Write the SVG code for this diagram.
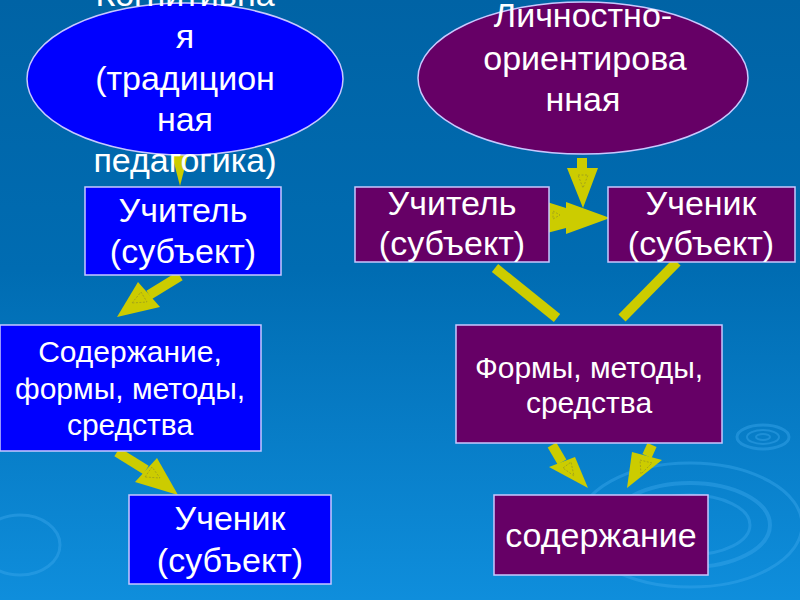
<svg xmlns="http://www.w3.org/2000/svg" width="800" height="600" viewBox="0 0 800 600">
<defs>
<linearGradient id="bg" x1="0" y1="0" x2="0" y2="1">
<stop offset="0" stop-color="#0063A5"/>
<stop offset="0.45" stop-color="#006CB2"/>
<stop offset="1" stop-color="#0F8EDC"/>
</linearGradient>
<style>
.t{font-family:"Liberation Sans",Arial,sans-serif;fill:#FFFFFF;text-anchor:middle}
.big{font-size:34px}
.mid{font-size:30px}
.blue{fill:#0000FF;stroke:#C8C8FF;stroke-width:1.5}
.purp{fill:#660066;stroke:#C8C8FF;stroke-width:1.5}
.shaft{stroke:#CCCC00;stroke-width:10;fill:none}
.head{fill:#CCCC00}
.inner{fill:none;stroke:#9A9A20;stroke-width:0.8;stroke-dasharray:2 1.5}
.rip{fill:none;stroke:#3AA6EA;stroke-opacity:0.45}
</style>
</defs>
<rect width="800" height="600" fill="url(#bg)"/>
<g id="ripples">
<ellipse class="rip" cx="763" cy="437" rx="26" ry="12" stroke-width="3"/>
<ellipse class="rip" cx="763" cy="437" rx="16" ry="7" stroke-width="2"/>
<ellipse class="rip" cx="763" cy="437" rx="7" ry="3" stroke-width="2"/>
<ellipse class="rip" cx="690" cy="525" rx="80" ry="42" stroke-width="4"/>
<ellipse class="rip" cx="690" cy="525" rx="60" ry="30" stroke-width="3"/>
<ellipse class="rip" cx="690" cy="525" rx="112" ry="62" stroke-width="3"/>
<ellipse class="rip" cx="20" cy="545" rx="40" ry="30" stroke-width="3"/>
</g>
<g id="connectors">
<polygon class="head" points="172,155 188,155 180,186"/>
<line class="shaft" x1="180" y1="276" x2="149" y2="295"/>
<polygon class="head" points="117,317 138,282 160,307"/>
<polygon class="inner" points="132,303 141,292 147,302"/>
<line class="shaft" x1="117" y1="452" x2="146" y2="470"/>
<polygon class="head" points="178,495 135,482 157,458"/>
<polygon class="inner" points="145,477 152,467 160,478"/>
<line class="shaft" x1="582" y1="158" x2="582" y2="170"/>
<polygon class="head" points="567,168 598,168 583,208"/>
<polygon class="inner" points="578,175 588,175 583,188"/>
<polygon class="head" points="547,202 566,208 566,202 610,218 566,234 566,228 547,233"/>
<polygon class="inner" points="553,211 560,215 553,219"/>
<line class="shaft" x1="495" y1="268" x2="557" y2="318"/>
<line class="shaft" x1="677" y1="262" x2="622" y2="318"/>
<line class="shaft" x1="552" y1="445" x2="562" y2="462"/>
<polygon class="head" points="588,488 549,467 575,457"/>
<polygon class="inner" points="563,468 571,462 574,476"/>
<line class="shaft" x1="652" y1="445" x2="647" y2="456"/>
<polygon class="head" points="627,488 632,452 662,460"/>
<polygon class="inner" points="640,460 652,463 641,474"/>
</g>
<g id="ellipse-cognitive">
<ellipse class="blue" cx="185" cy="79" rx="158" ry="76"/>
<text class="t big" x="185" y="6">Когнитивна</text>
<text class="t big" x="185" y="48">я</text>
<text class="t big" x="185" y="90">(традицион</text>
<text class="t big" x="185" y="131">ная</text>
<text class="t big" x="185" y="172">педагогика)</text>
</g>
<g id="ellipse-personal">
<ellipse class="purp" cx="583" cy="78" rx="165" ry="76"/>
<text class="t big" x="583" y="27">Личностно-</text>
<text class="t big" x="585" y="70">ориентирова</text>
<text class="t big" x="583" y="111">нная</text>
</g>
<g id="teacher-left">
<rect class="blue" x="85" y="187" width="196" height="88"/>
<text class="t big" x="183" y="222">Учитель</text>
<text class="t big" x="183" y="263">(субъект)</text>
</g>
<g id="content-left">
<rect class="blue" x="0" y="325" width="261" height="126"/>
<text class="t mid" x="130" y="362">Содержание,</text>
<text class="t mid" x="130" y="399">формы, методы,</text>
<text class="t mid" x="130" y="435">средства</text>
</g>
<g id="student-left">
<rect class="blue" x="129" y="495" width="202" height="89"/>
<text class="t big" x="230" y="530">Ученик</text>
<text class="t big" x="230" y="572">(субъект)</text>
</g>
<g id="teacher-right">
<rect class="purp" x="355" y="187" width="194" height="75"/>
<text class="t big" x="452" y="215">Учитель</text>
<text class="t big" x="452" y="255">(субъект)</text>
</g>
<g id="student-right">
<rect class="purp" x="608" y="187" width="187" height="75"/>
<text class="t big" x="701" y="215">Ученик</text>
<text class="t big" x="701" y="255">(субъект)</text>
</g>
<g id="forms-right">
<rect class="purp" x="456" y="325" width="266" height="118"/>
<text class="t mid" x="589" y="378">Формы, методы,</text>
<text class="t mid" x="589" y="413">средства</text>
</g>
<g id="content-right">
<rect class="purp" x="494" y="495" width="214" height="80"/>
<text class="t big" x="601" y="547">содержание</text>
</g>
</svg>
